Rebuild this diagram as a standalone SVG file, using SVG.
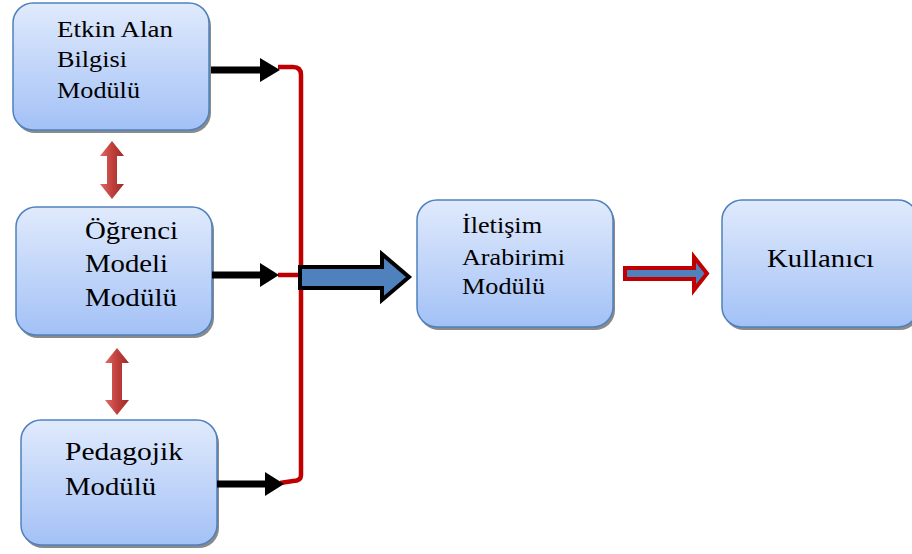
<svg xmlns="http://www.w3.org/2000/svg" width="912" height="554" viewBox="0 0 912 554">
<defs>
<linearGradient id="boxg" x1="0" y1="0" x2="0" y2="1">
<stop offset="0" stop-color="#e0eafc"/>
<stop offset="1" stop-color="#a3c1f6"/>
</linearGradient>
<linearGradient id="redg" x1="0" y1="0" x2="1" y2="0">
<stop offset="0" stop-color="#e06a66"/>
<stop offset="0.5" stop-color="#c0403c"/>
<stop offset="1" stop-color="#9e2a27"/>
</linearGradient>
</defs>
<style>
.box{fill:url(#boxg);stroke:#4f81bd;stroke-width:1.5}
.shadow{fill:#8a8a8a}
.t{font-family:"Liberation Serif","Times New Roman",serif;font-size:24px;fill:#000}
.b{font-size:26px}
.blk{stroke:#000;stroke-width:7;fill:none}
.head{fill:#000}
.red{stroke:#c00000;stroke-width:4.5;fill:none}
.dbl{fill:url(#redg)}
</style>

<g id="node-etkin">
<rect class="shadow" x="15" y="6" width="196" height="127" rx="20"/>
<rect class="box" x="13" y="3" width="196" height="127" rx="20"/>
<text class="t" x="57" y="37" textLength="116" lengthAdjust="spacingAndGlyphs">Etkin Alan</text>
<text class="t" x="57" y="67" textLength="70" lengthAdjust="spacingAndGlyphs">Bilgisi</text>
<text class="t" x="57" y="98" textLength="83" lengthAdjust="spacingAndGlyphs">Modülü</text>
</g>

<g id="node-ogrenci">
<rect class="shadow" x="18" y="210" width="196" height="128" rx="20"/>
<rect class="box" x="16" y="207" width="196" height="128" rx="20"/>
<text class="t b" x="85" y="239" textLength="93" lengthAdjust="spacingAndGlyphs">Öğrenci</text>
<text class="t b" x="85" y="272" textLength="83" lengthAdjust="spacingAndGlyphs">Modeli</text>
<text class="t b" x="85" y="306" textLength="92" lengthAdjust="spacingAndGlyphs">Modülü</text>
</g>

<g id="node-pedagojik">
<rect class="shadow" x="23" y="423" width="196" height="125" rx="20"/>
<rect class="box" x="21" y="420" width="196" height="125" rx="20"/>
<text class="t b" x="65" y="460" textLength="118" lengthAdjust="spacingAndGlyphs">Pedagojik</text>
<text class="t b" x="65" y="495" textLength="91" lengthAdjust="spacingAndGlyphs">Modülü</text>
</g>

<g id="node-iletisim">
<rect class="shadow" x="419" y="203" width="196" height="127" rx="20"/>
<rect class="box" x="417" y="200" width="196" height="127" rx="20"/>
<text class="t" x="462" y="233" textLength="80" lengthAdjust="spacingAndGlyphs">İletişim</text>
<text class="t" x="462" y="265" textLength="103" lengthAdjust="spacingAndGlyphs">Arabirimi</text>
<text class="t" x="462" y="294" textLength="83" lengthAdjust="spacingAndGlyphs">Modülü</text>
</g>

<g id="node-kullanici">
<rect class="shadow" x="724" y="203" width="196" height="127" rx="20"/>
<rect class="box" x="722" y="200" width="196" height="127" rx="20"/>
<text class="t b" x="767" y="267" textLength="107" lengthAdjust="spacingAndGlyphs">Kullanıcı</text>
</g>

<g id="connectors">
<path class="red" d="M278 67 L293 67 Q301 67 301 75 L301 475 Q301 481 293 481 L280 483"/>
<line class="red" x1="278" y1="275" x2="301" y2="275"/>
<line class="blk" x1="211" y1="70" x2="262" y2="70"/>
<polygon class="head" points="260,58 280,70 260,82"/>
<line class="blk" x1="212" y1="275" x2="262" y2="275"/>
<polygon class="head" points="260,263 279,275 260,287"/>
<line class="blk" x1="217" y1="484" x2="267" y2="484"/>
<polygon class="head" points="265,472 284,484 265,496"/>
<polygon points="300,267 382,267 382,254 409,277 382,300 382,288 300,288" fill="#4f81bd" stroke="#000" stroke-width="4" stroke-linejoin="miter"/>
<polygon points="625,268 694,268 694,257 707,273.5 694,290 694,279 625,279" fill="#4f81bd" stroke="#c00000" stroke-width="4"/>
<polygon class="dbl" points="112,141 124,156 117,156 117,184 124,184 112,199 100,184 107,184 107,156 100,156"/>
<polygon class="dbl" points="117,348 129,363 122,363 122,400 129,400 117,415 105,400 112,400 112,363 105,363"/>
</g>
</svg>
